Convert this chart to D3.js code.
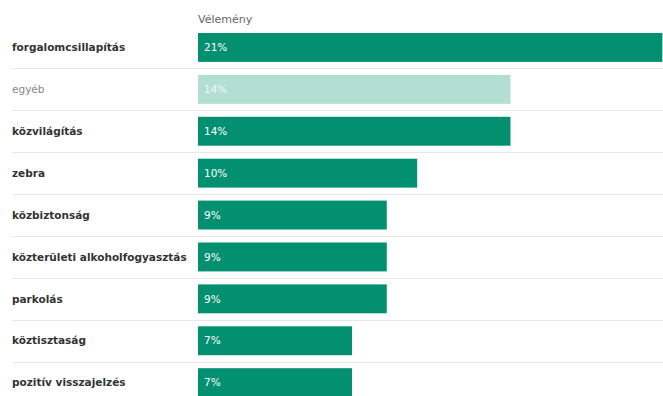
<!DOCTYPE html>
<html>
  <head>
    <meta charset="utf-8" />
    <script src="https://cdn.jsdelivr.net/npm/d3@7"></script>
    <style>
      body { margin: 0; background: #fff; }
      .label { font: bold 10.5px "DejaVu Sans", sans-serif; fill: #333; }
      .label.muted { font-weight: normal; fill: #888; }
      .value { font: 10.5px "DejaVu Sans", sans-serif; fill: #fff; }
      .value.muted { fill: #eef8f5; }
      .header { font: 11px "DejaVu Sans", sans-serif; fill: #666; }
      .sep { stroke: #e8e8e8; stroke-width: 1; }
    </style>
  </head>
  <body>
    <div id="chart"></div>
    <script type="text/javascript">
      var w = 663, h = 396;

      var categories = ["forgalomcsillapítás", "egyéb", "közvilágítás", "zebra",
        "közbiztonság", "közterületi alkoholfogyasztás", "parkolás",
        "köztisztaság", "pozitív visszajelzés"];
      var values = [21.4, 14.4, 14.4, 10.1, 8.7, 8.7, 8.7, 7.1, 7.1];
      var muted = ["egyéb"];
      var seriesName = "Vélemény";

      var rows = categories.map(function(c, i) { return { name: c, value: values[i] }; });

      var svg = d3.select("#chart").append("svg")
        .attr("width", w)
        .attr("height", h);

      var x = d3.scaleLinear().domain([0, 30]).range([198, 198 + 30 * 21.7]);
      var y = d3.scaleBand().domain(categories)
        .range([26.5, 26.5 + 9 * 41.9])
        .paddingInner(0.31)
        .paddingOuter(0.155);
      var fmt = function(v) { return Math.round(v) + "%"; };

      svg.append("text")
        .attr("class", "header")
        .attr("x", x(0))
        .attr("y", 23)
        .text(seriesName);

      // separators between rows
      svg.selectAll("line.sep").data(rows.slice(0, -1))
        .enter().append("line")
        .attr("class", "sep")
        .attr("x1", 12)
        .attr("x2", w)
        .attr("y1", function(d) { return Math.round(y(d.name) + y.bandwidth() + y.step() * y.paddingInner() / 2) + 0.5; })
        .attr("y2", function(d) { return Math.round(y(d.name) + y.bandwidth() + y.step() * y.paddingInner() / 2) + 0.5; });

      svg.selectAll("rect.bar").data(rows)
        .enter().append("rect")
        .attr("class", "bar")
        .attr("x", x(0))
        .attr("y", function(d) { return y(d.name); })
        .attr("width", function(d) { return x(d.value) - x(0); })
        .attr("height", y.bandwidth())
        .attr("fill", function(d) { return muted.indexOf(d.name) >= 0 ? "#b3ded2" : "#039071"; });

      svg.selectAll("text.label").data(rows)
        .enter().append("text")
        .attr("class", function(d) { return muted.indexOf(d.name) >= 0 ? "label muted" : "label"; })
        .attr("x", 12)
        .attr("y", function(d) { return y(d.name) + y.bandwidth() / 2; })
        .attr("dy", "0.35em")
        .text(function(d) { return d.name; });

      svg.selectAll("text.value").data(rows)
        .enter().append("text")
        .attr("class", function(d) { return muted.indexOf(d.name) >= 0 ? "value muted" : "value"; })
        .attr("x", x(0) + 6)
        .attr("y", function(d) { return y(d.name) + y.bandwidth() / 2; })
        .attr("dy", "0.35em")
        .text(function(d) { return fmt(d.value); });
    </script>
  </body>
</html>
